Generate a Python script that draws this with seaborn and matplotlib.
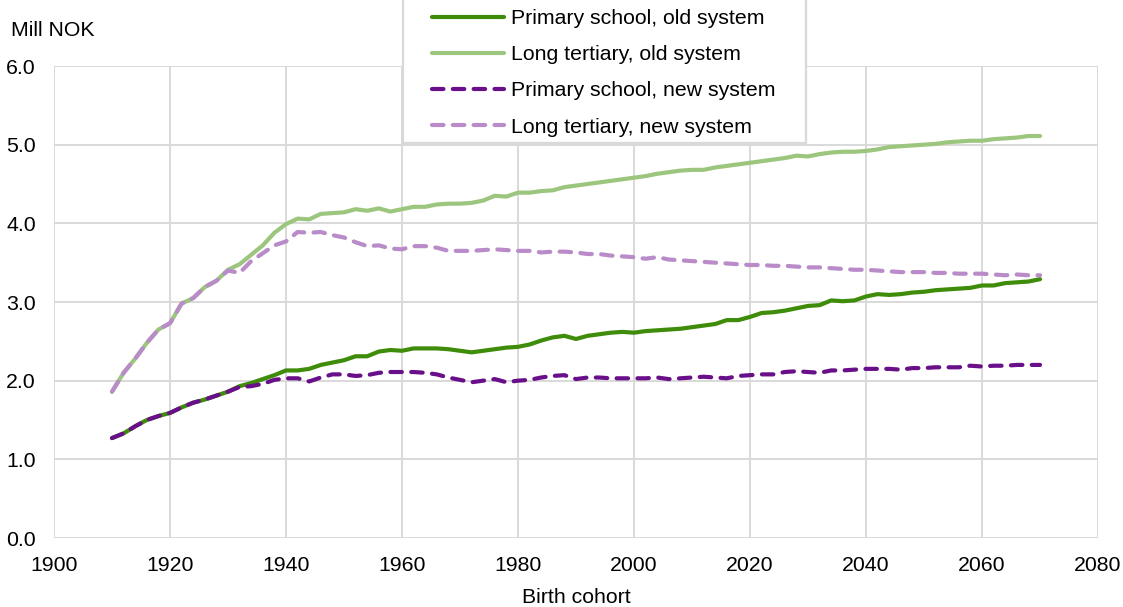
import matplotlib
matplotlib.use("Agg")
import matplotlib.pyplot as plt
from matplotlib.patches import Rectangle
import seaborn as sns
import pandas as pd

years = list(range(1910, 2071, 2))

primary_old = [
    1.27, 1.33, 1.42, 1.50, 1.55, 1.59, 1.66, 1.72, 1.76, 1.81,
    1.86, 1.93, 1.97, 2.02, 2.07, 2.13, 2.13, 2.15, 2.20, 2.23,
    2.26, 2.31, 2.31, 2.37, 2.39, 2.38, 2.41, 2.41, 2.41, 2.40,
    2.38, 2.36, 2.38, 2.40, 2.42, 2.43, 2.46, 2.51, 2.55, 2.57,
    2.53, 2.57, 2.59, 2.61, 2.62, 2.61, 2.63, 2.64, 2.65, 2.66,
    2.68, 2.70, 2.72, 2.77, 2.77, 2.81, 2.86, 2.87, 2.89, 2.92,
    2.95, 2.96, 3.02, 3.01, 3.02, 3.07, 3.10, 3.09, 3.10, 3.12,
    3.13, 3.15, 3.16, 3.17, 3.18, 3.21, 3.21, 3.24, 3.25, 3.26,
    3.29,
]

tertiary_old = [
    1.86, 2.10, 2.28, 2.48, 2.65, 2.73, 2.98, 3.05, 3.19, 3.27,
    3.41, 3.48, 3.60, 3.72, 3.88, 3.99, 4.06, 4.05, 4.12, 4.13,
    4.14, 4.18, 4.16, 4.19, 4.15, 4.18, 4.21, 4.21, 4.24, 4.25,
    4.25, 4.26, 4.29, 4.35, 4.34, 4.39, 4.39, 4.41, 4.42, 4.46,
    4.48, 4.50, 4.52, 4.54, 4.56, 4.58, 4.60, 4.63, 4.65, 4.67,
    4.68, 4.68, 4.71, 4.73, 4.75, 4.77, 4.79, 4.81, 4.83, 4.86,
    4.85, 4.88, 4.90, 4.91, 4.91, 4.92, 4.94, 4.97, 4.98, 4.99,
    5.00, 5.01, 5.03, 5.04, 5.05, 5.05, 5.07, 5.08, 5.09, 5.11,
    5.11,
]

primary_new = [
    1.27, 1.33, 1.42, 1.50, 1.55, 1.59, 1.66, 1.72, 1.76, 1.81,
    1.86, 1.92, 1.93, 1.96, 2.01, 2.03, 2.03, 1.99, 2.04, 2.08,
    2.08, 2.06, 2.07, 2.10, 2.11, 2.11, 2.11, 2.10, 2.08, 2.04,
    2.01, 1.98, 2.00, 2.02, 1.98, 2.00, 2.01, 2.04, 2.06, 2.07,
    2.02, 2.04, 2.04, 2.03, 2.03, 2.03, 2.03, 2.04, 2.02, 2.03,
    2.04, 2.05, 2.04, 2.03, 2.06, 2.07, 2.08, 2.08, 2.11, 2.12,
    2.11, 2.10, 2.13, 2.13, 2.14, 2.15, 2.15, 2.15, 2.14, 2.16,
    2.16, 2.17, 2.17, 2.17, 2.19, 2.18, 2.19, 2.19, 2.20, 2.20,
    2.20,
]

tertiary_new = [
    1.86, 2.10, 2.28, 2.48, 2.65, 2.73, 2.98, 3.05, 3.19, 3.27,
    3.40, 3.37, 3.52, 3.62, 3.72, 3.77, 3.89, 3.88, 3.89, 3.85,
    3.82, 3.76, 3.71, 3.72, 3.68, 3.67, 3.71, 3.71, 3.69, 3.65,
    3.65, 3.65, 3.66, 3.67, 3.66, 3.65, 3.65, 3.63, 3.64, 3.64,
    3.63, 3.61, 3.61, 3.59, 3.58, 3.57, 3.55, 3.57, 3.54, 3.53,
    3.52, 3.51, 3.50, 3.49, 3.48, 3.47, 3.47, 3.46, 3.46, 3.45,
    3.44, 3.44, 3.43, 3.42, 3.41, 3.41, 3.40, 3.39, 3.38, 3.38,
    3.38, 3.37, 3.37, 3.36, 3.36, 3.36, 3.35, 3.34, 3.35, 3.34,
    3.34,
]

labels = [
    "Primary school, old system",
    "Long tertiary, old system",
    "Primary school, new system",
    "Long tertiary, new system",
]
series = [primary_old, tertiary_old, primary_new, tertiary_new]
colors = ["#3F8C0A", "#9CC67E", "#6A0F8A", "#B98BC9"]
dashed = [False, False, True, True]

FS = 15.3
sns.set_theme(style="whitegrid")
plt.rcParams["font.family"] = ["Liberation Sans", "DejaVu Sans"]
plt.rcParams["font.size"] = FS
plt.rcParams["text.color"] = "black"

W, H = 1123, 607
fig = plt.figure(figsize=(W / 100, H / 100), dpi=100)
ax = fig.add_axes([54 / W, 1 - 538 / H, 1044 / W, 472 / H])

for vals, lab, col, dsh in zip(series, labels, colors, dashed):
    df = pd.DataFrame({"year": years, "value": vals})
    kw = {}
    if dsh:
        kw = dict(linestyle=(0, (2.75, 2.25)), dash_capstyle="round")
    sns.lineplot(data=df, x="year", y="value", ax=ax, color=col,
                 linewidth=3.0, label=lab, **kw)

ax.set_xlim(1900, 2080)
ax.set_ylim(0, 6)
ax.set_xticks(range(1900, 2081, 20))
ax.set_yticks([0, 1, 2, 3, 4, 5, 6])
ax.set_yticklabels([f"{v:.1f}" for v in range(7)])
ax.grid(True, color="#D9D9D9", linewidth=1.4)
for s in ax.spines.values():
    s.set_visible(False)
ax.tick_params(axis="both", length=0, labelsize=FS, colors="black")
ax.tick_params(axis="y", pad=13)
ax.tick_params(axis="x", pad=13)
ax.set_xlabel("Birth cohort", fontsize=FS, labelpad=9, color="black")
ax.set_ylabel("")
fig.text(11 / W, 1 - 31 / H, "Mill NOK", fontsize=FS, va="center", ha="left",
         color="black")

handles, labs = ax.get_legend_handles_labels()
ax.get_legend().remove()

# legend box: white rectangle that hides the grid, legend text on top
box = Rectangle((403 / W, 1 - 143 / H), 403 / W, 145 / H,
                transform=fig.transFigure, facecolor="white",
                edgecolor="#D9D9D9", linewidth=1.6, zorder=4)
fig.add_artist(box)
leg = fig.legend(handles, labs, loc="upper left",
                 bbox_to_anchor=(432 / W, 1 - 9 / H),
                 frameon=False, borderaxespad=0, borderpad=0,
                 fontsize=FS, handlelength=3.4, labelspacing=0.81,
                 handletextpad=0.3, labelcolor="black")
leg.set_zorder(5)

fig.savefig("out.png", dpi=100)
